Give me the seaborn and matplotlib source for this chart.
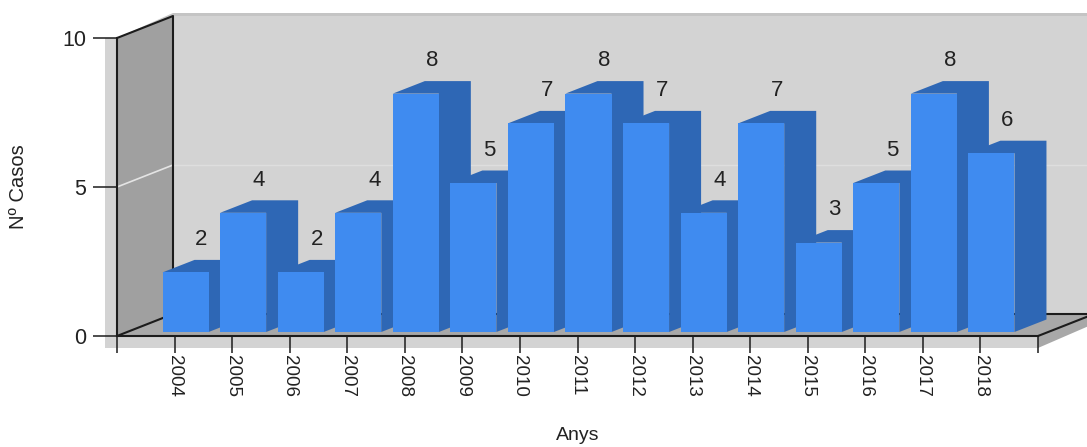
import matplotlib
matplotlib.use("Agg")
import matplotlib.pyplot as plt
from matplotlib.patches import Polygon
import pandas as pd
import seaborn as sns

anys = ["2004", "2005", "2006", "2007", "2008", "2009", "2010", "2011",
        "2012", "2013", "2014", "2015", "2016", "2017", "2018"]
casos = [2, 4, 2, 4, 8, 5, 7, 8, 7, 4, 7, 3, 5, 8, 6]
yticks = [0, 5, 10]

W, H = 1087, 447
BLUE = "#3f8bf0"
BLUE_DARK = "#2e67b5"
WALL = "#d3d3d3"
SIDE = "#a0a0a0"
FLOOR = "#a8a8a8"
LINE = "#1c1c1c"

sns.set_theme(style="white")
plt.rcParams["font.family"] = ["Liberation Sans", "DejaVu Sans"]

df = pd.DataFrame({"Anys": anys, "Casos": casos})


def frame(left, right, top, bottom):
    # pixel box -> figure fraction
    return [left / W, 1 - bottom / H, (right - left) / W, (bottom - top) / H]


fig = plt.figure(figsize=(W / 100, H / 100), dpi=100, facecolor="white")

# front plane of the 3D box, holds the axes and ticks
ax = fig.add_axes(frame(117, 1038, 38, 336))
ax.set_xlim(-1, 15)
ax.set_ylim(0, 10)
ax.patch.set_alpha(0)
ux = 921 / 16   # px per category
uy = 298 / 10   # px per case

# depth of the box in data units
ddx, ddy = 56 / ux, 22 / uy


def poly(ax_, pts, color, z, **kw):
    ax_.add_patch(Polygon(pts, closed=True, facecolor=color, edgecolor="none",
                          zorder=z, clip_on=False, **kw))


# outer band round the box
poly(ax, [(-1 - 12 / ux, -12 / uy), (-1 - 12 / ux, 10), (-1, 10), (-1, -12 / uy)], WALL, 0.5)
poly(ax, [(-1, -12 / uy), (15, -12 / uy), (15, 0), (-1, 0)], WALL, 0.5)
poly(ax, [(15, -12 / uy), (15 + 60 / ux, 14 / uy), (15 + 60 / ux, 30 / uy), (15, 0)], FLOOR, 0.5)
poly(ax, [(-1, 10), (-1 + ddx, 10 + ddy + 3 / uy), (16 + ddx, 10 + ddy + 3 / uy), (16 + ddx, 10 + ddy),
          (-1 + ddx, 10 + ddy)], "#c4c4c4", 0.6)

# back wall, side wall, floor
poly(ax, [(-1 + ddx, ddy), (-1 + ddx, 10 + ddy), (16 + ddx, 10 + ddy), (16 + ddx, ddy)], WALL, 1)
poly(ax, [(-1, 0), (-1, 10), (-1 + ddx, 10 + ddy), (-1 + ddx, ddy)], SIDE, 1)
poly(ax, [(-1, 0), (15, 0), (15 + ddx, ddy), (-1 + ddx, ddy)], FLOOR, 1)

# gridline at 5
ax.plot([-1, -1 + ddx], [5, 5 + ddy], color="#e4e4e4", lw=1.2, zorder=1.5, clip_on=False)
ax.plot([-1 + ddx, 16 + ddx], [5 + ddy, 5 + ddy], color="#dedede", lw=1, zorder=1.5, clip_on=False)

# box edges
ax.plot([-1, -1 + ddx, -1 + ddx], [10, 10 + ddy, ddy], color=LINE, lw=1.5, zorder=2, clip_on=False)
ax.plot([-1, -1 + ddx, 16 + ddx], [0, ddy, ddy], color=LINE, lw=1.5, zorder=2, clip_on=False)
ax.plot([15, 15 + ddx], [0, ddy], color=LINE, lw=1.5, zorder=2, clip_on=False)

for s in ["top", "right"]:
    ax.spines[s].set_visible(False)
for s in ["left", "bottom"]:
    ax.spines[s].set_color(LINE)
    ax.spines[s].set_linewidth(1.5)
    ax.spines[s].set_zorder(2)

ax.set_yticks(yticks)
ax.set_xticks(range(15))
ax.set_xticklabels(anys, rotation=-90, fontsize=13.5, color="#222222")
ax.set_xticks([-1, 15], minor=True)
ax.tick_params(axis="y", length=17, width=1.1, color=LINE, pad=5, labelsize=15.5, labelcolor="#222222",
               left=True)
ax.tick_params(axis="x", which="both", length=12, width=1.1, color=LINE, pad=1.5, bottom=True)

# bars sit a little way into the box
ax_bars = fig.add_axes(frame(117 + 11, 1038 + 11, 38 - 4, 336 - 4))
sns.barplot(data=df, x="Anys", y="Casos", color=BLUE, saturation=1, width=0.8, ax=ax_bars)
ax_bars.set_xlim(-1, 15)
ax_bars.set_ylim(0, 10)
ax_bars.axis("off")

bdx, bdy = 32 / ux, 12.5 / uy
for i, (bar, val) in enumerate(zip(ax_bars.patches, casos)):
    x0, x1 = bar.get_x(), bar.get_x() + bar.get_width()
    bar.set_zorder(3 + 2 * i + 1)
    bar.set_linewidth(0)
    poly(ax_bars, [(x0, val), (x1, val), (x1, 0), (x1 + bdx, bdy), (x1 + bdx, val + bdy),
                   (x0 + bdx, val + bdy)], BLUE_DARK, 3 + 2 * i)
    ax_bars.annotate(str(val), xy=((x0 + x1) / 2, val), xytext=(11.5, 23.5),
                     textcoords="offset points", ha="center", va="center",
                     fontsize=16, color="#222222", zorder=50, annotation_clip=False)

fig.text(578 / W, 1 - 435 / H, "Anys", ha="center", va="center", fontsize=14, color="#222222")
fig.text(19 / W, 1 - 187 / H, "Nº Casos", rotation=90, ha="center", va="center", fontsize=14.5,
         color="#222222")

fig.savefig("out.png", dpi=100)
